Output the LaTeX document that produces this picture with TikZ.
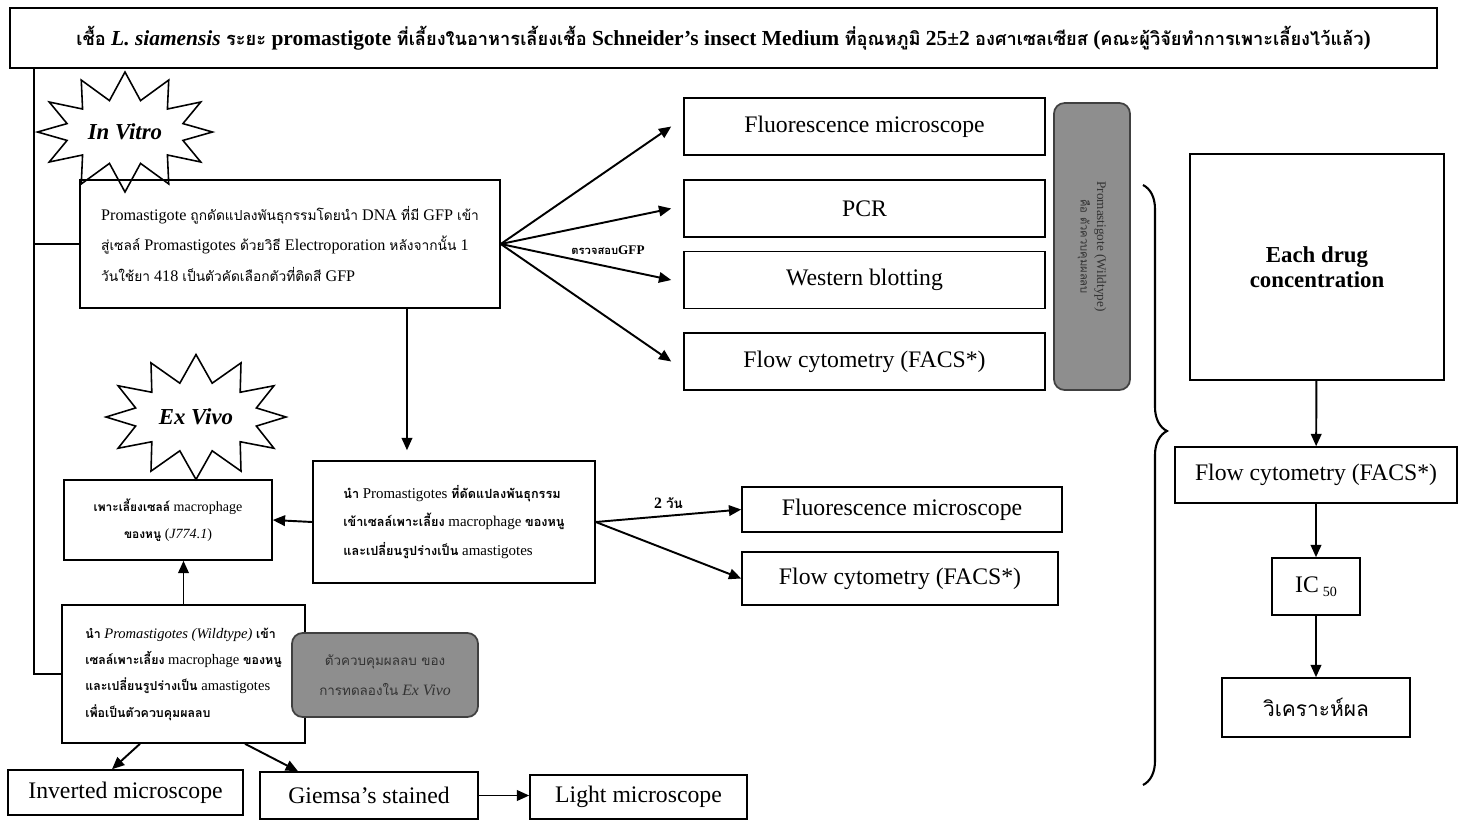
\documentclass[tikz,border=0pt]{standalone}
\usepackage{fontspec}
\setmainfont{Liberation Serif}
\newfontfamily\thaifont[Script=Thai,Scale=0.85]{Loma}
\usetikzlibrary{arrows.meta,shapes.symbols,decorations.pathreplacing}
\definecolor{shade}{HTML}{8E8E8E}
\definecolor{shadeline}{HTML}{404040}
\newcommand\tx[1]{{\thaifont #1}}
\newcommand\txb[1]{{\thaifont\bfseries #1}}

\begin{document}
\begin{tikzpicture}[
  x=0.02cm, y=-0.02cm,
  box/.style={draw, line width=0.9pt, inner sep=2pt, font=\fontsize{13.5}{16}\selectfont},
  note/.style={draw, line width=0.9pt, inner sep=2pt, align=left},
  burst/.style={starburst, draw, line width=0.9pt, starburst points=12, starburst point height=0.55cm, random starburst=0, inner sep=0pt, font=\bfseries\itshape\fontsize{13}{15}\selectfont},
  greybox/.style={draw=shadeline, fill=shade, rounded corners=6pt, line width=1pt, align=center, text=black!80},
  line/.style={line width=1.1pt},
  arrow/.style={-{Triangle[length=7pt,width=6pt]}, line width=1.1pt}
]
  \useasboundingbox (0,0) rectangle (1458,819);

  % culture at the top
  \node[draw, line width=0.9pt, minimum width=28.54cm, minimum height=1.2cm, font=\bfseries\fontsize{12.2}{14}\selectfont] (title) at (723.5,38)
    {\tx{เชื้อ} \textit{L. siamensis} \tx{ระยะ} promastigote \tx{ที่เลี้ยงในอาหารเลี้ยงเชื้อ} Schneider's insect Medium \tx{ที่อุณหภูมิ} 25±2 \tx{องศาเซลเซียส} (\tx{คณะผู้วิจัยทำการเพาะเลี้ยงไว้แล้ว})};

  % In Vitro
  \node[burst, minimum width=3.5cm, minimum height=2.4cm] (vitro) at (125,132) {In Vitro};
  \node[note, minimum width=8.4cm, minimum height=2.56cm, font=\fontsize{9.2}{17.6}\selectfont] (invitro) at (290,244)
    {Promastigote \tx{ถูกดัดแปลงพันธุกรรมโดยนำ} DNA \tx{ที่มี} GFP \tx{เข้า}\\
     \tx{สู่เซลล์} Promastigotes \tx{ด้วยวิธี} Electroporation \tx{หลังจากนั้น} 1\\
     \tx{วันใช้ยา} 418 \tx{เป็นตัวคัดเลือกตัวที่ติดสี} GFP};

  \node[box, minimum width=7.22cm, minimum height=1.14cm] (fluor) at (864.5,126.5) {Fluorescence microscope};
  \node[box, minimum width=7.22cm, minimum height=1.14cm] (pcr) at (864.5,208.5) {PCR};
  \node[box, minimum width=7.22cm, minimum height=1.14cm] (western) at (864.5,280) {Western blotting};
  \node[box, minimum width=7.22cm, minimum height=1.14cm] (facs) at (864.5,361.5) {Flow cytometry (FACS*)};
  \node[greybox, rotate=-90, minimum width=5.74cm, minimum height=1.52cm, font=\fontsize{7.5}{9.5}\selectfont] (wildnote) at (1092,246.5)
    {Promastigote (Wildtype)\\\tx{คือ ตัวควบคุมผลลบ}};
  \node[font=\bfseries\fontsize{7.5}{9}\selectfont] (check) at (608,250) {\tx{ตรวจสอบ}GFP};

  % Ex Vivo
  \node[note, minimum width=5.64cm, minimum height=2.44cm, font=\fontsize{8.5}{16.4}\selectfont] (transfer) at (454,522)
    {\txb{นำ} Promastigotes \txb{ที่ดัดแปลงพันธุกรรม}\\
     \txb{เข้าเซลล์เพาะเลี้ยง} macrophage \txb{ของหนู}\\
     \txb{และเปลี่ยนรูปร่างเป็น} amastigotes};
  \node[note, align=center, minimum width=4.16cm, minimum height=1.6cm, font=\fontsize{8}{15}\selectfont] (macro) at (168,520)
    {\txb{เพาะเลี้ยงเซลล์} macrophage\\\txb{ของหนู} (\textit{J774.1})};
  \node[burst, minimum width=3.6cm, minimum height=2.5cm] (vivo) at (196,417) {Ex Vivo};
  \node[note, minimum width=4.86cm, minimum height=2.76cm, font=\fontsize{8.3}{15}\selectfont] (wild) at (183.5,674)
    {\txb{นำ} \textit{Promastigotes (Wildtype)} \txb{เข้า}\\
     \txb{เซลล์เพาะเลี้ยง} macrophage \txb{ของหนู}\\
     \txb{และเปลี่ยนรูปร่างเป็น} amastigotes\\
     \txb{เพื่อเป็นตัวควบคุมผลลบ}};
  \node[greybox, minimum width=3.72cm, minimum height=1.68cm, font=\fontsize{9}{17}\selectfont] (negctrl) at (385,675)
    {\tx{ตัวควบคุมผลลบ ของ}\\\tx{การทดลองใน} \textit{Ex Vivo}};

  \node[box, minimum width=4.7cm, minimum height=0.9cm] (inverted) at (125.5,792.5) {Inverted microscope};
  \node[box, minimum width=4.36cm, minimum height=0.94cm] (giemsa) at (369,795.5) {Giemsa's stained};
  \node[box, minimum width=4.34cm, minimum height=0.88cm] (light) at (638.5,797) {Light microscope};
  \node[box, minimum width=6.4cm, minimum height=0.9cm] (fluor2) at (902,509.5) {Fluorescence microscope};
  \node[box, minimum width=6.32cm, minimum height=1.06cm] (facs2) at (900,578.5) {Flow cytometry (FACS*)};

  % drug test
  \node[box, minimum width=5.08cm, minimum height=4.52cm, align=center, font=\bfseries\fontsize{13}{14.5}\selectfont] (drug) at (1317,267) {Each drug\\concentration};
  \node[box, minimum width=5.64cm, minimum height=1.12cm] (facs3) at (1316,475) {Flow cytometry (FACS*)};
  \node[box, minimum width=1.76cm, minimum height=1.14cm] (ic) at (1316,586.5) {IC\,\raisebox{-0.35ex}{\fontsize{8}{9}\selectfont 50}};
  \node[box, minimum width=3.76cm, minimum height=1.18cm, font=\fontsize{14}{16}\selectfont] (result) at (1316,707.5) {\tx{วิเคราะห์ผล}};

  % connectors
  \coordinate (spine) at ([xshift=0.5cm]title.south west);
  \draw[line] (spine) |- (wild.west);
  \draw[line] (spine |- invitro.west) -- (invitro.west);
  \draw[arrow] (invitro.east) -- ([xshift=-0.24cm]fluor.west);
  \draw[arrow] (invitro.east) -- ([xshift=-0.24cm]pcr.west);
  \draw[arrow] (invitro.east) -- ([xshift=-0.24cm]western.west);
  \draw[arrow] (invitro.east) -- ([xshift=-0.24cm]facs.west);
  \coordinate (drop) at ([xshift=2.34cm]invitro.south);
  \draw[arrow, shorten >=0.2cm] (drop) -- (drop |- transfer.north);
  \draw[arrow] (transfer.west) -- (macro.east);
  \draw[arrow] (wild.north) -- (wild.north |- macro.south);
  \draw[arrow] (transfer.east) -- node[above, font=\bfseries\fontsize{9}{11}\selectfont] {2 \tx{วัน}} (fluor2.west);
  \draw[arrow] (transfer.east) -- (facs2.west);
  \draw[arrow] ([xshift=-0.87cm]wild.south) -- ([xshift=-0.27cm]inverted.north);
  \draw[arrow] ([xshift=1.23cm]wild.south) -- ([xshift=-1.42cm]giemsa.north);
  \draw[arrow] (giemsa.east) -- (giemsa.east -| light.west);
  \draw[arrow] (drug) -- (facs3);
  \draw[arrow] (facs3) -- (ic);
  \draw[arrow] (ic) -- (result);

  \coordinate (brace top) at (1143,185);
  \coordinate (brace bottom) at (1143,785);
  \draw[line width=1.2pt, decorate, decoration={brace, amplitude=0.48cm, aspect=0.41}] (brace top) -- (brace bottom);
\end{tikzpicture}
\end{document}
